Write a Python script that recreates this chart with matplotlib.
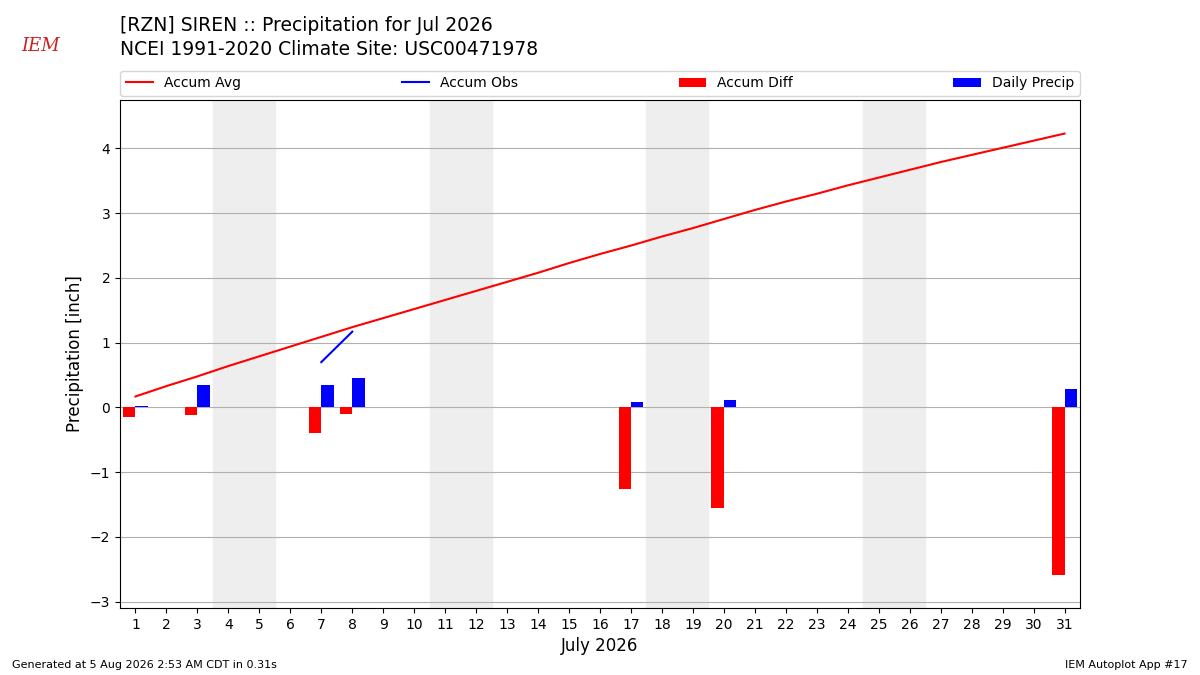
import matplotlib
matplotlib.use("Agg")
import matplotlib.pyplot as plt
import numpy as np

days = np.arange(1, 32)
accum_avg = [0.17, 0.33, 0.48, 0.64, 0.79, 0.94, 1.09, 1.24, 1.38, 1.52, 1.66,
             1.80, 1.94, 2.08, 2.23, 2.37, 2.50, 2.64, 2.77, 2.91, 3.05, 3.18,
             3.30, 3.43, 3.55, 3.67, 3.79, 3.90, 4.01, 4.12, 4.23]
obs_days = [7, 8]
accum_obs = [0.70, 1.17]
precip_days = [1, 3, 7, 8, 17, 20, 31]
accum_diff = [-0.14, -0.11, -0.39, -0.10, -1.26, -1.56, -2.59]
daily_precip = [0.03, 0.34, 0.34, 0.46, 0.09, 0.12, 0.29]
weekends = [4, 11, 18, 25]

fig = plt.figure(figsize=(12, 6.75), dpi=100)
ax = fig.add_axes([0.1, 0.099, 0.8, 0.753])

for w in weekends:
    ax.axvspan(w - 0.5, w + 1.5, color="#eeeeee", zorder=0)

l1, = ax.plot(days, accum_avg, color="r", label="Accum Avg", zorder=3)
l2, = ax.plot(obs_days, accum_obs, color="b", label="Accum Obs", zorder=3)
pd_ = np.array(precip_days)
b1 = ax.bar(pd_ - 0.2, accum_diff, width=0.4, color="r", label="Accum Diff", zorder=2)
b2 = ax.bar(pd_ + 0.2, daily_precip, width=0.4, color="b", label="Daily Precip", zorder=2)

ax.set_xlim(0.5, 31.5)
ax.set_ylim(-3.1, 4.75)
ax.set_xticks(days)
ax.set_yticks(range(-3, 5))
ax.set_yticklabels(["\u22123", "\u22122", "\u22121", "0", "1", "2", "3", "4"])
ax.grid(axis="y", color="#b0b0b0")
ax.set_axisbelow(True)
ax.set_xlabel("July 2026", fontsize=12)
ax.set_ylabel("Precipitation [inch]", fontsize=12)

fig.legend(handles=[l1, l2, b1, b2], loc="lower left", ncol=4, mode="expand",
           bbox_to_anchor=(0.1, 0.858, 0.8, 0.04), borderaxespad=0, fontsize=10)

fig.text(0.1, 0.948, "[RZN] SIREN :: Precipitation for Jul 2026", fontsize=13.5, va="bottom")
fig.text(0.1, 0.913, "NCEI 1991-2020 Climate Site: USC00471978", fontsize=13.5, va="bottom")
fig.text(0.018, 0.925, "IEM", fontsize=13, color="#cc2222", style="italic", family="serif")
fig.text(0.01, 0.01, "Generated at 5 Aug 2026 2:53 AM CDT in 0.31s", fontsize=8)
fig.text(0.99, 0.01, "IEM Autoplot App #17", fontsize=8, ha="right")

fig.savefig("out.png", dpi=100)
